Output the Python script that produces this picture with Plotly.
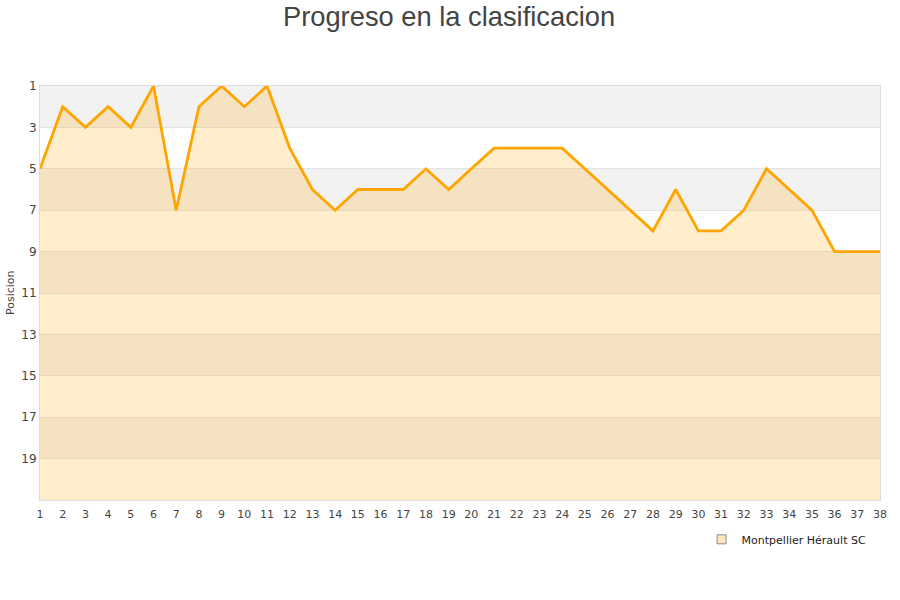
import plotly.graph_objects as go

# Jornadas y posiciones
jornadas = list(range(1, 39))
posiciones = [5, 2, 3, 2, 3, 1, 7, 2, 1, 2, 1, 4, 6, 7, 6, 6, 6, 5, 6, 5,
              4, 4, 4, 4, 5, 6, 7, 8, 6, 8, 8, 7, 5, 6, 7, 9, 9, 9]
equipo = "Montpellier Hérault SC"
y_ticks = [1, 3, 5, 7, 9, 11, 13, 15, 17, 19]
ultimo_puesto = 21

fig = go.Figure()

# Bandas alternas de fondo
for i, y0 in enumerate(y_ticks):
    if i % 2 == 0:
        fig.add_shape(type="rect", xref="paper", x0=0, x1=1, y0=y0, y1=y0 + 2,
                      fillcolor="#f2f2f2", line_width=0, layer="below")

# Linea base para el relleno (ultimo puesto)
fig.add_trace(go.Scatter(x=jornadas, y=[ultimo_puesto] * len(jornadas),
                         mode="lines", line=dict(width=0), showlegend=False,
                         hoverinfo="skip"))

fig.add_trace(go.Scatter(
    x=jornadas, y=posiciones, mode="lines", name=equipo,
    line=dict(color="#ffa500", width=2.8),
    fill="tonexty", fillcolor="rgba(255,165,0,0.2)",
    showlegend=False,
))

# Entrada de la leyenda
fig.add_trace(go.Scatter(
    x=[None], y=[None], mode="markers", name=equipo,
    marker=dict(symbol="square", size=9, color="#ffe8bf",
                line=dict(color="#888888", width=1)),
))

fig.update_layout(
    width=900, height=600,
    paper_bgcolor="white", plot_bgcolor="white",
    margin=dict(l=40, r=20, t=86, b=100),
    title=dict(text="Progreso en la clasificacion", x=0.499, xanchor="center",
               y=1 - 16 / 600, yanchor="middle",
               font=dict(family="Liberation Sans, Arial", size=27.3, color="#444444")),
    font=dict(family="DejaVu Sans, Verdana", size=11, color="#555555"),
    legend=dict(orientation="h", x=0.99, xanchor="right", y=-0.06, yanchor="top",
                font=dict(size=11, color="#222222")),
)

# titulo del eje Y
fig.add_annotation(text="Posicion", xref="paper", yref="paper",
                   x=-30 / 840, y=0.5, xanchor="center", yanchor="middle",
                   textangle=-90, showarrow=False,
                   font=dict(size=11, color="#444444"))

fig.update_xaxes(range=[1, 38], tickmode="linear", tick0=1, dtick=1,
                 showgrid=False, zeroline=False, showline=True,
                 linecolor="#dddddd", mirror=True,
                 ticks="outside", ticklen=4, tickcolor="rgba(0,0,0,0)",
                 tickfont=dict(size=11, color="#444444"))
fig.update_yaxes(range=[ultimo_puesto, 1], tickvals=y_ticks,
                 showgrid=True, gridcolor="#e3e3e3", zeroline=False,
                 showline=True, linecolor="#dddddd", mirror=True, ticks="",
                 automargin=False,
                 tickfont=dict(size=12, color="#444444"))

# sin margen en el body para que el titulo no se corte
fig.write_html("out.html", config={"displayModeBar": False},
               post_script="document.body.style.margin='0';")
